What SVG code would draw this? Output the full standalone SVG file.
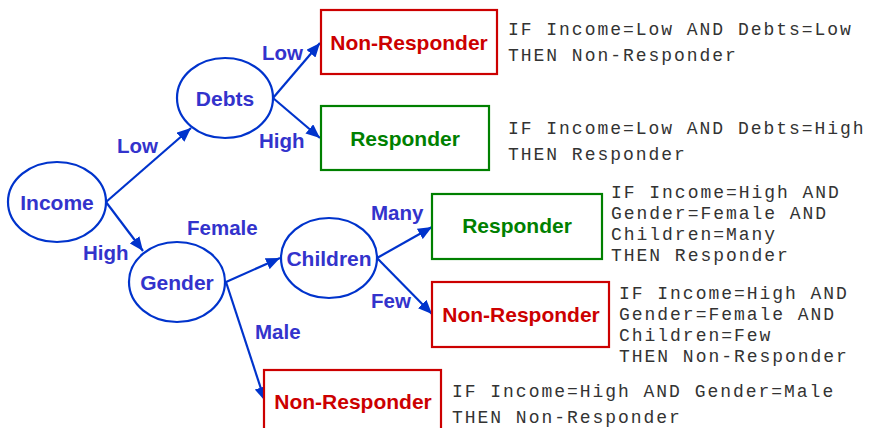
<svg xmlns="http://www.w3.org/2000/svg" width="870" height="428" viewBox="0 0 870 428">
  <defs>
    <marker id="arrow" viewBox="0 0 14 12" refX="14" refY="6" markerWidth="14" markerHeight="12" markerUnits="userSpaceOnUse" orient="auto">
      <path d="M0,0 L14,6 L0,12 Z" fill="#0033cc"/>
    </marker>
    <style>
      .split { fill: #ffffff; stroke: #0033cc; stroke-width: 2.2; }
      .splitText { font-family: "Liberation Sans", Arial, sans-serif; font-weight: bold; font-size: 21px; fill: #3333cc; text-anchor: middle; }
      .edge { stroke: #0033cc; stroke-width: 2.2; fill: none; marker-end: url(#arrow); }
      .edgeLabel { font-family: "Liberation Sans", Arial, sans-serif; font-weight: bold; font-size: 20.5px; fill: #3333cc; }
      .leafNo { fill: #ffffff; stroke: #cc0000; stroke-width: 2.2; }
      .leafYes { fill: #ffffff; stroke: #008000; stroke-width: 2.2; }
      .noText { font-family: "Liberation Sans", Arial, sans-serif; font-weight: bold; font-size: 21px; fill: #cc0000; text-anchor: middle; }
      .yesText { font-family: "Liberation Sans", Arial, sans-serif; font-weight: bold; font-size: 21px; fill: #008000; text-anchor: middle; }
      .rule { font-family: "Liberation Mono", "Courier New", monospace; font-size: 18px; letter-spacing: 1.97px; fill: #333333; }
    </style>
  </defs>

  <!-- connectors -->
  <g id="edges">
    <line class="edge" x1="106" y1="202" x2="191" y2="128"/>
    <line class="edge" x1="106" y1="202" x2="143" y2="251"/>
    <line class="edge" x1="273" y1="98" x2="320" y2="43"/>
    <line class="edge" x1="273" y1="98" x2="320" y2="138"/>
    <line class="edge" x1="226" y1="282" x2="280" y2="258"/>
    <line class="edge" x1="226" y1="282" x2="265" y2="401"/>
    <line class="edge" x1="377" y1="258" x2="432" y2="227"/>
    <line class="edge" x1="377" y1="258" x2="432" y2="314"/>
    <text class="edgeLabel" x="117" y="153">Low</text>
    <text class="edgeLabel" x="83" y="260">High</text>
    <text class="edgeLabel" x="262" y="60">Low</text>
    <text class="edgeLabel" x="259" y="148">High</text>
    <text class="edgeLabel" x="187" y="235">Female</text>
    <text class="edgeLabel" x="255" y="339">Male</text>
    <text class="edgeLabel" x="371" y="220">Many</text>
    <text class="edgeLabel" x="371" y="308">Few</text>
  </g>

  <!-- split nodes -->
  <g id="income">
    <ellipse class="split" cx="57" cy="202" rx="49" ry="40"/>
    <text class="splitText" x="57" y="210">Income</text>
  </g>
  <g id="debts">
    <ellipse class="split" cx="225" cy="98" rx="48" ry="40"/>
    <text class="splitText" x="225" y="106">Debts</text>
  </g>
  <g id="gender">
    <ellipse class="split" cx="177" cy="282" rx="48" ry="40"/>
    <text class="splitText" x="177" y="290">Gender</text>
  </g>
  <g id="children">
    <ellipse class="split" cx="329" cy="258" rx="48" ry="40"/>
    <text class="splitText" x="329" y="266">Children</text>
  </g>

  <!-- leaf nodes -->
  <g id="leaf-low-low">
    <rect class="leafNo" x="321" y="10" width="176" height="64"/>
    <text class="noText" x="409" y="50">Non-Responder</text>
  </g>
  <g id="leaf-low-high">
    <rect class="leafYes" x="321" y="106" width="168" height="64"/>
    <text class="yesText" x="405" y="146">Responder</text>
  </g>
  <g id="leaf-female-many">
    <rect class="leafYes" x="432" y="194" width="170" height="65"/>
    <text class="yesText" x="517" y="233">Responder</text>
  </g>
  <g id="leaf-female-few">
    <rect class="leafNo" x="432" y="282" width="177" height="65"/>
    <text class="noText" x="521" y="322">Non-Responder</text>
  </g>
  <g id="leaf-male">
    <rect class="leafNo" x="264" y="370" width="177" height="66"/>
    <text class="noText" x="353" y="409">Non-Responder</text>
  </g>

  <!-- rules -->
  <g id="rules">
    <text class="rule" x="508" y="35">IF Income=Low AND Debts=Low</text>
    <text class="rule" x="508" y="61">THEN Non-Responder</text>
    <text class="rule" x="508" y="134">IF Income=Low AND Debts=High</text>
    <text class="rule" x="508" y="160">THEN Responder</text>
    <text class="rule" x="611" y="198">IF Income=High AND</text>
    <text class="rule" x="611" y="219">Gender=Female AND</text>
    <text class="rule" x="611" y="240">Children=Many</text>
    <text class="rule" x="611" y="261">THEN Responder</text>
    <text class="rule" x="619" y="299">IF Income=High AND</text>
    <text class="rule" x="619" y="320">Gender=Female AND</text>
    <text class="rule" x="619" y="341">Children=Few</text>
    <text class="rule" x="619" y="362">THEN Non-Responder</text>
    <text class="rule" x="452" y="397">IF Income=High AND Gender=Male</text>
    <text class="rule" x="452" y="423">THEN Non-Responder</text>
  </g>
</svg>
